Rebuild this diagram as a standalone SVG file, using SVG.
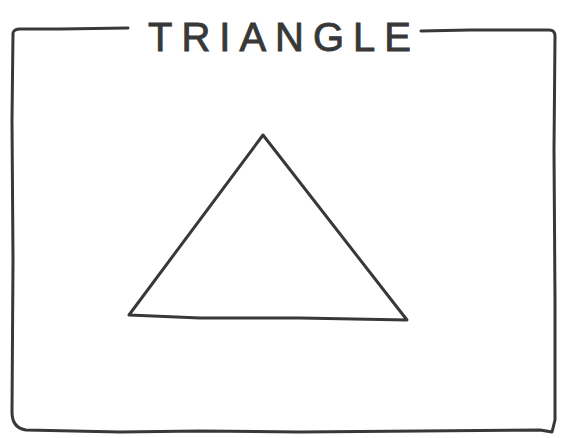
<svg xmlns="http://www.w3.org/2000/svg" width="566" height="438" viewBox="0 0 566 438">
<style>
.ink{fill:none;stroke:#383838;stroke-width:3;stroke-linecap:round;stroke-linejoin:round}
.title{font-family:"Liberation Sans",Arial,sans-serif;font-size:40px;fill:#383838;stroke:#383838;stroke-width:0.9;letter-spacing:9px}
</style>
<rect width="566" height="438" fill="#ffffff"/>
<g id="frame">
<path class="ink" d="M128,28 L60,29 L20,29 Q14,29 13,33 L12,120 L13,260 L12,412 Q12,428 26,430 L120,432 L200,431 L300,432 L420,431 L540,430 L552,432 L555,420 L555,300 L554,150 L555,36 Q555,30 549,30 L470,30 L421,31"/>
<text class="title" x="148" y="51">TRIANGLE</text>
</g>
<g id="triangle">
<path class="ink" d="M263,135 L129,315 L200,318 L300,318 L407,320 Z"/>
</g>
<g id="connectors"/>
</svg>
